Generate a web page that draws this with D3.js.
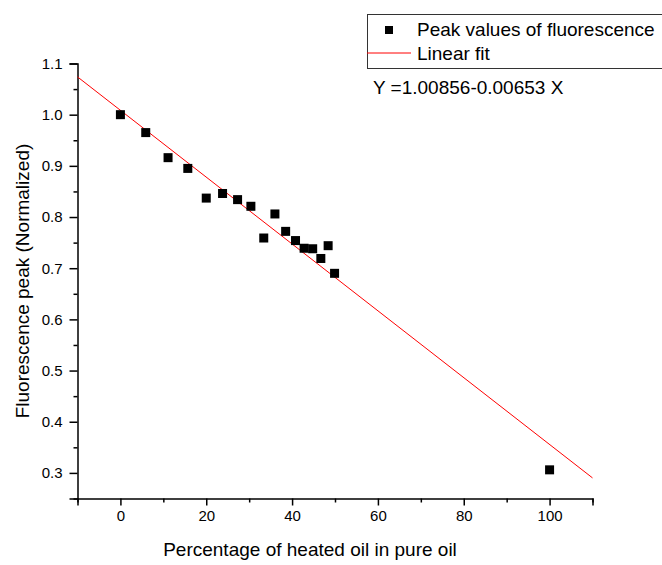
<!DOCTYPE html>
<html>
<head>
<meta charset="utf-8">
<script src="https://cdn.jsdelivr.net/npm/d3@7"></script>
<style>
  body { margin: 0; background: #fff; }
  text { font-family: Arial, "Liberation Sans", sans-serif; fill: #000; }
</style>
</head>
<body>
<div id="chart"></div>
<script>
// percentage of heated oil and normalized fluorescence peak
var heatedPct = [0, 5.9, 11.1, 15.7, 20.0, 23.8, 27.3, 30.4, 33.4, 36.0, 38.5, 40.8, 42.8, 44.8, 46.7, 48.4, 49.9, 100];
var peakValues = [1.0, 0.965, 0.916, 0.895, 0.837, 0.846, 0.834, 0.821, 0.759, 0.806, 0.772, 0.754, 0.739, 0.738, 0.719, 0.744, 0.690, 0.306];

// linear fit Y = a + b X
var fitIntercept = 1.00856,
    fitSlope = -0.00653;

var xTicks = [0, 20, 40, 60, 80, 100];
var yTicks = [0.3, 0.4, 0.5, 0.6, 0.7, 0.8, 0.9, 1.0, 1.1];

var width = 662,
    height = 565;

var svg = d3.select('#chart')
  .append('svg')
  .attr('width', width)
  .attr('height', height);

var x = d3.scaleLinear().domain([-10, 110]).range([77.5, 592.5]);
var y = d3.scaleLinear().domain([0.25, 1.1]).range([498.5, 63.5]);

// minor ticks
var xMinor = d3.range(-10, 111, 10).filter(function(v) { return v % 20 !== 0; });
var yMinor = d3.range(0.25, 1.1, 0.1).map(function(v) { return +v.toFixed(2); });

svg.append('g')
  .attr('transform', 'translate(0,' + y(0.25) + ')')
  .call(d3.axisBottom(x).tickValues(xMinor).tickSize(4).tickFormat(''))
  .call(function(g) { g.select('.domain').remove(); })
  .selectAll('line').attr('stroke-width', 1.5);

svg.append('g')
  .attr('transform', 'translate(' + x(-10) + ',0)')
  .call(d3.axisLeft(y).tickValues(yMinor).tickSize(4).tickFormat(''))
  .call(function(g) { g.select('.domain').remove(); })
  .selectAll('line').attr('stroke-width', 1.5);

// major axes
var xAxis = svg.append('g')
  .attr('transform', 'translate(0,' + y(0.25) + ')')
  .call(d3.axisBottom(x).tickValues(xTicks).tickSize(7).tickSizeOuter(7).tickPadding(5));
xAxis.select('.domain').attr('stroke-width', 1.5);
xAxis.selectAll('line').attr('stroke-width', 1.5);
xAxis.selectAll('text').attr('font-size', 15).style('font-family', 'Arial, "Liberation Sans", sans-serif');

var yAxis = svg.append('g')
  .attr('transform', 'translate(' + x(-10) + ',0)')
  .call(d3.axisLeft(y).tickValues(yTicks).tickSize(8).tickSizeOuter(8).tickPadding(7).tickFormat(d3.format('.1f')));
yAxis.select('.domain').attr('stroke-width', 1.5);
yAxis.selectAll('line').attr('stroke-width', 1.5);
yAxis.selectAll('text').attr('font-size', 15).style('font-family', 'Arial, "Liberation Sans", sans-serif');

// fit line
svg.append('line')
  .attr('x1', x(-10)).attr('y1', y(fitIntercept + fitSlope * -10))
  .attr('x2', x(110)).attr('y2', y(fitIntercept + fitSlope * 110))
  .attr('stroke', '#ff0000')
  .attr('stroke-width', 1);

// points
svg.selectAll('rect.pt')
  .data(heatedPct)
  .enter()
  .append('rect')
  .attr('class', 'pt')
  .attr('x', function(d) { return x(d) - 4.5; })
  .attr('y', function(d, i) { return y(peakValues[i]) - 4.5; })
  .attr('width', 9)
  .attr('height', 9)
  .attr('fill', '#000');

// axis titles
svg.append('text')
  .attr('x', 310)
  .attr('y', 556)
  .attr('text-anchor', 'middle')
  .attr('font-size', 19)
  .text('Percentage of heated oil in pure oil');

svg.append('text')
  .attr('transform', 'translate(29,281) rotate(-90)')
  .attr('text-anchor', 'middle')
  .attr('font-size', 19)
  .text('Fluorescence peak (Normalized)');

// legend
var legend = svg.append('g');
legend.append('rect')
  .attr('x', 367.5).attr('y', 14.5)
  .attr('width', 300).attr('height', 54)
  .attr('fill', 'none')
  .attr('stroke', '#333')
  .attr('stroke-width', 1);
legend.append('rect')
  .attr('x', 385).attr('y', 26)
  .attr('width', 8).attr('height', 8)
  .attr('fill', '#000');
legend.append('line')
  .attr('x1', 367).attr('x2', 411)
  .attr('y1', 53).attr('y2', 53)
  .attr('stroke', '#ff0000')
  .attr('stroke-width', 1);
legend.append('text')
  .attr('x', 417).attr('y', 36)
  .attr('font-size', 19)
  .text('Peak values of fluorescence');
legend.append('text')
  .attr('x', 417).attr('y', 60)
  .attr('font-size', 19)
  .text('Linear fit');

svg.append('text')
  .attr('x', 373).attr('y', 94)
  .attr('font-size', 19)
  .text('Y =1.00856-0.00653 X');
</script>
</body>
</html>
